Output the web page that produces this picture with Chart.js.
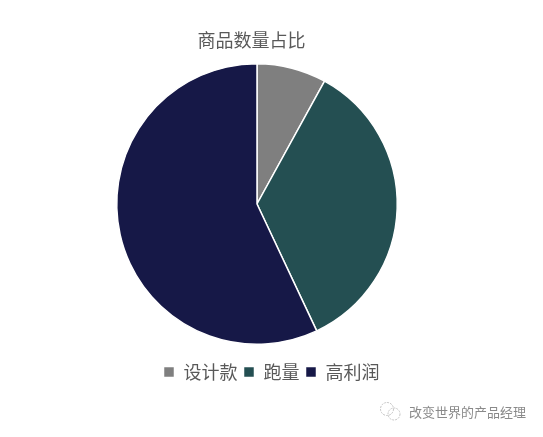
<!DOCTYPE html>
<html>
<head>
<meta charset="utf-8">
<style>
    html, body { margin: 0; padding: 0; background: #fff; }
    #box { position: relative; width: 543px; height: 437px; }
    #mark { position: absolute; left: 379px; top: 402px; width: 150px; height: 20px; font: 13px "Noto Sans CJK SC"; color: #8a8a8a; line-height: 20px; white-space: nowrap; }
    #mark svg { position: absolute; left: 0; top: 0; }
    #mark span { position: absolute; left: 30px; top: 0; }
</style>
</head>
<body>
<div id="box">
    <canvas id="myChart" width="543" height="437"></canvas>
    <div id="mark">
        <svg width="24" height="20" fill="none" stroke="#c4c4c4" stroke-width="1" stroke-dasharray="2 1">
            <circle cx="8" cy="7" r="6.5"></circle>
            <circle cx="15" cy="12" r="6"></circle>
        </svg>
        <span>改变世界的产品经理</span>
    </div>
</div>
<script src="https://cdn.jsdelivr.net/npm/chart.js@4/dist/chart.umd.min.js"></script>
<script>
const titleText = "商品数量占比";
const labels = ["设计款", "跑量", "高利润"];
const values = [8, 35, 57];
const colors = ["#7f7f7f", "#244f52", "#161847"];

// the pie and the title do not share the legend's centre in the original,
// and there is a wider gap between the pie and the legend
const shiftBoxes = {
    id: "shiftBoxes",
    afterLayout(chart) {
        const area = chart.chartArea;
        area.left -= 14.5;
        area.right -= 14.5;
        area.top = 63;
        area.bottom = 345;
        area.height = 282;
        chart.titleBlock.left -= 20;
        chart.titleBlock.right -= 20;
    }
};

const myChart = document.getElementById("myChart");
new Chart(myChart, {
    type: "pie",
    data: {
        labels,
        datasets: [{
            data: values,
            backgroundColor: colors,
            borderColor: "#ffffff",
            borderWidth: 1.5
        }]
    },
    options: {
        responsive: false,
        animation: false,
        layout: { padding: { top: 29, bottom: 46 } },
        plugins: {
            tooltip: { enabled: false },
            title: {
                display: true,
                text: titleText,
                color: "#595959",
                font: { family: "'Noto Sans CJK SC'", size: 18, weight: "normal" },
                padding: { top: 0, bottom: 13.4 }
            },
            legend: {
                position: "bottom",
                labels: {
                    color: "#595959",
                    font: { family: "'Noto Sans CJK SC'", size: 18 },
                    boxWidth: 11,
                    boxHeight: 11,
                    padding: 6
                }
            }
        }
    },
    plugins: [shiftBoxes]
});
</script>
</body>
</html>
